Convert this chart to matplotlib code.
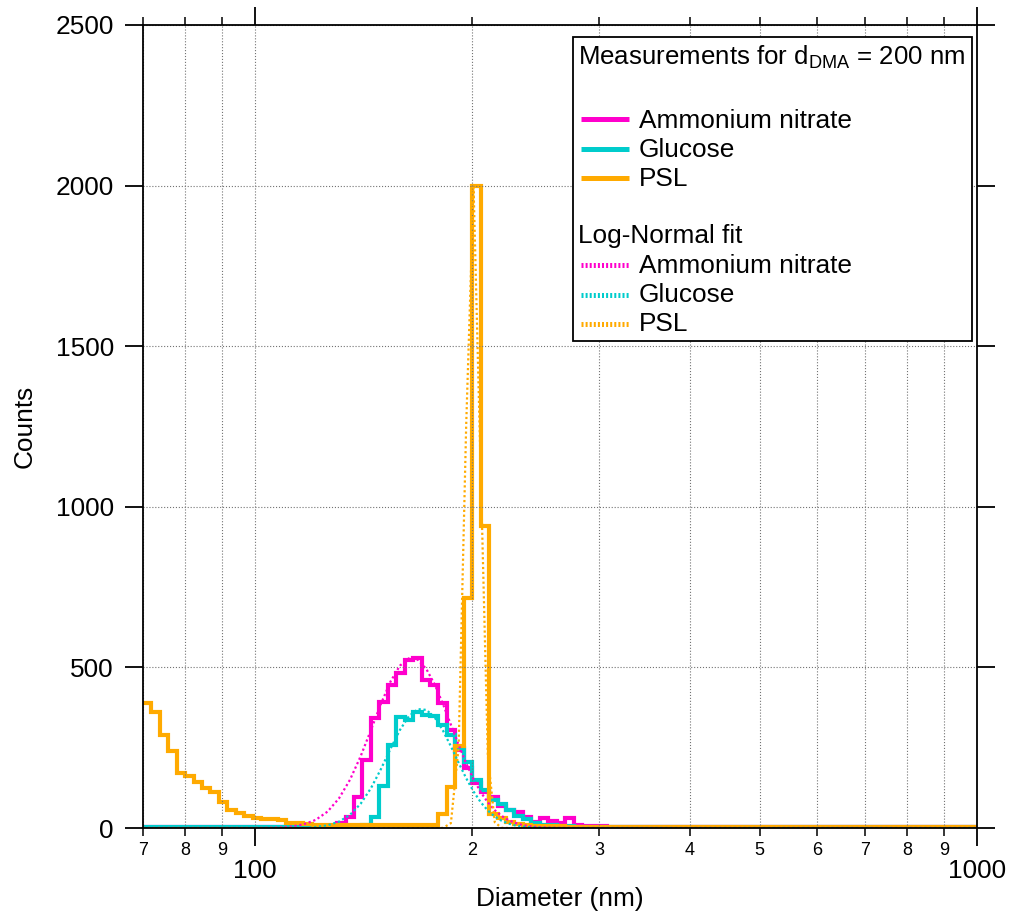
import numpy as np
import matplotlib
matplotlib.use('Agg')
import matplotlib.pyplot as plt
from matplotlib.ticker import LogLocator, FixedLocator, FuncFormatter
from matplotlib.lines import Line2D
from matplotlib.patches import Rectangle

plt.rcParams['font.family'] = ['Liberation Sans', 'DejaVu Sans']
plt.rcParams['mathtext.fontset'] = 'custom'
plt.rcParams['mathtext.rm'] = 'Liberation Sans'
plt.rcParams['mathtext.it'] = 'Liberation Sans:italic'

# histogram bins (log spaced, edge at 200 nm), first edge at 70 nm
bin_index = np.arange(-39, 61)
bin_edges = 200.0 * 10 ** (bin_index / 85.5)

# counts per bin, bins -39 .. 59
psl_counts = [
    388, 362, 290, 240, 170, 162, 144, 124, 111, 82,
    56, 48, 37, 32, 28, 28, 26, 17, 15, 14,
    10, 9, 8, 8, 8, 8, 8, 8, 8, 8,
    8, 8, 9, 9, 10, 44, 128, 255, 715, 2000,
    940, 45, 30, 18, 12, 9, 7, 6, 5, 5,
    4, 4, 4, 4, 4, 4, 4, 4, 4, 4,
    4, 4, 4, 4, 4, 4, 4, 4, 4, 4,
    4, 4, 4, 4, 4, 4, 4, 4, 4, 4,
    4, 4, 4, 4, 4, 4, 4, 4, 4, 4,
    4, 4, 4, 4, 4, 4, 4, 4, 4,
]
an_counts = [
    3, 3, 3, 3, 3, 3, 3, 3, 3, 3,
    3, 3, 3, 3, 3, 3, 3, 3, 3, 3,
    3, 4, 6, 15, 33, 97, 212, 341, 393, 445,
    482, 523, 528, 461, 445, 388, 305, 243, 186, 139,
    113, 97, 68, 56, 51, 33, 20, 30, 23, 15,
    30, 9, 7, 6, 5, 4, 4, 4, 4, 4,
    4, 4, 4, 4, 4, 4, 4, 4, 4, 4,
    4, 4, 4, 4, 4, 4, 4, 4, 4, 4,
    4, 4, 4, 4, 4, 4, 4, 4, 4, 4,
    4, 4, 4, 4, 4, 4, 4, 4, 4,
]
glu_counts = [
    2, 2, 2, 2, 2, 2, 2, 2, 2, 2,
    2, 2, 2, 2, 2, 2, 2, 2, 2, 2,
    2, 2, 2, 2, 3, 4, 8, 35, 130, 258,
    347, 336, 362, 352, 350, 320, 290, 250, 205, 150,
    118, 88, 75, 55, 38, 27, 16, 10, 8, 6,
    5, 4, 4, 3, 3, 3, 3, 3, 3, 3,
    3, 3, 3, 3, 3, 3, 3, 3, 3, 3,
    3, 3, 3, 3, 3, 3, 3, 3, 3, 3,
    3, 3, 3, 3, 3, 3, 3, 3, 3, 3,
    3, 3, 3, 3, 3, 3, 3, 3, 3,
]

# log-normal fit parameters: amplitude, geometric mean (nm), width (decades)
an_fit = (530, 165.0, 0.054)
glu_fit = (372, 170.0, 0.047)
psl_fit = (2000, 200.5, 0.0098)

c_an = '#FF00CC'
c_glu = '#00CCCC'
c_psl = '#FFAA00'


def lognormal(d, amp, dg, s):
    return amp * np.exp(-np.log10(d / dg) ** 2 / (2 * s ** 2))


fig = plt.figure(figsize=(10.09, 9.17), dpi=100)
ax = fig.add_axes([143 / 1009, 1 - 828 / 917, 834 / 1009, 803 / 917])

ax.stairs(an_counts, bin_edges, baseline=None, color=c_an, lw=3.0)
ax.stairs(glu_counts, bin_edges, baseline=None, color=c_glu, lw=3.0)
ax.stairs(psl_counts, bin_edges, baseline=None, color=c_psl, lw=3.0)

# fit curves sampled at 200 linear points over the data range
d_fit = np.linspace(70, 1000, 200)
for pars, col in [(an_fit, c_an), (glu_fit, c_glu), (psl_fit, c_psl)]:
    ax.plot(d_fit, lognormal(d_fit, *pars), color=col, lw=1.6,
            linestyle=(0, (1.0, 1.2)))

ax.set_xscale('log')
ax.set_xlim(70, 1000)
ax.set_ylim(0, 2500)

ax.xaxis.set_major_locator(LogLocator(base=10))
ax.xaxis.set_minor_locator(LogLocator(base=10, subs=np.arange(2, 10)))
ax.xaxis.set_major_formatter(FuncFormatter(lambda v, p: '%d' % round(v)))
ax.xaxis.set_minor_formatter(
    FuncFormatter(lambda v, p: '%d' % round(v / 10 ** np.floor(np.log10(v) + 1e-9))))
ax.yaxis.set_major_locator(FixedLocator([0, 500, 1000, 1500, 2000, 2500]))

fs = 18.9
ax.tick_params(axis='x', which='major', direction='out', length=13, width=1.3,
               labelsize=fs, pad=9, top=True, bottom=True, labeltop=False)
ax.tick_params(axis='x', which='minor', direction='out', length=6, width=1.1,
               labelsize=13, pad=4, top=True, bottom=True, labeltop=False)
ax.tick_params(axis='y', which='major', direction='out', length=13, width=1.3,
               labelsize=fs, pad=8, left=True, right=True, labelright=False)

ax.grid(True, which='both', axis='x', linestyle=':', color='0.45', lw=0.8)
ax.grid(True, which='major', axis='y', linestyle=':', color='0.45', lw=0.8)
for sp in ax.spines.values():
    sp.set_linewidth(1.3)

ax.set_xlabel('Diameter (nm)', fontsize=fs)
ax.set_ylabel('Counts', fontsize=fs)
ax.xaxis.set_label_coords(0.5, -0.074)
ax.yaxis.set_label_coords(-0.128, 0.5)


# legend box, placed in pixel terms of the original layout
def axx(px):
    return (px - 143) / 834


def axy(py):
    return (828 - py) / 803


ax.add_patch(Rectangle((axx(573), axy(340.5)), axx(972) - axx(573), axy(37.5) - axy(340.5),
                       transform=ax.transAxes, facecolor='white', edgecolor='black',
                       lw=1.3, zorder=5))
ax.text(axx(577.5), axy(65), 'Measurements for $\\mathrm{d_{DMA}}$ = 200 nm',
        transform=ax.transAxes, fontsize=18.6, va='baseline', ha='left', zorder=6)
ax.text(axx(577.5), axy(243.5), 'Log-Normal fit',
        transform=ax.transAxes, fontsize=fs, va='baseline', ha='left', zorder=6)

entries = [
    ('Ammonium nitrate', c_an, 119, 127.5, '-'),
    ('Glucose', c_glu, 148.5, 157, '-'),
    ('PSL', c_psl, 178, 186.5, '-'),
    ('Ammonium nitrate', c_an, 265, 273, 'dot'),
    ('Glucose', c_glu, 294.5, 302, 'dot'),
    ('PSL', c_psl, 323.5, 331, 'dot'),
]
for label, col, ly, by, style in entries:
    if style == '-':
        ln = Line2D([axx(581), axx(629)], [axy(ly), axy(ly)], transform=ax.transAxes,
                    color=col, lw=3.6, solid_capstyle='butt', zorder=6)
    else:
        ln = Line2D([axx(581), axx(629)], [axy(ly), axy(ly)], transform=ax.transAxes,
                    color=col, lw=3.6, linestyle=(0, (0.4, 0.42)),
                    dash_capstyle='butt', zorder=6)
    ax.add_line(ln)
    ax.text(axx(639), axy(by), label, transform=ax.transAxes, fontsize=fs,
            va='baseline', ha='left', zorder=6)

fig.savefig('out.png', dpi=100)
